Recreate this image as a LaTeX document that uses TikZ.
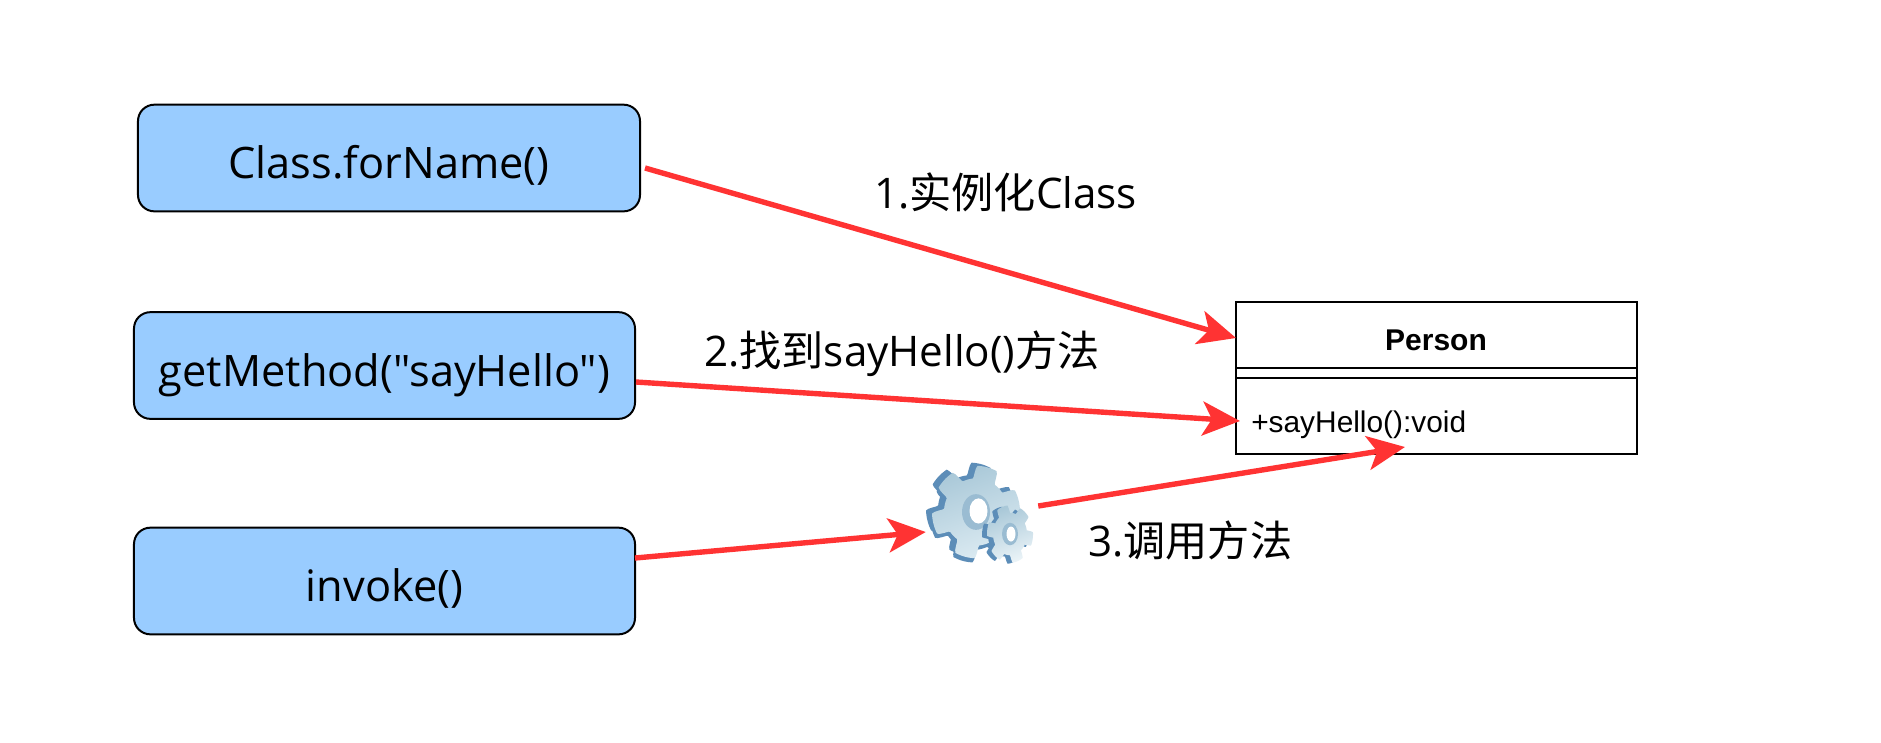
\documentclass[tikz,border=0pt]{standalone}
\usepackage{fontspec}
\setmainfont[Ligatures=TeXOff]{Open Sans}
\newfontfamily\cjkf{Noto Sans CJK SC}
\newfontfamily\umlf{Liberation Sans}
\usetikzlibrary{arrows.meta}
\definecolor{boxblue}{HTML}{99CCFF}
\definecolor{redline}{HTML}{FF3333}
\definecolor{geardark}{HTML}{5C8DB8}
\definecolor{gearlight}{HTML}{DCEBF2}
\definecolor{gearmid}{HTML}{A9C8D8}
\tikzset{
  x=0.03cm,y=-0.03cm,
  declare function={
    gearr(\a,\ri,\ro)=\ri+(\ro-\ri)*min(1,max(0,(0.33-abs(mod(\a+720,60)/60-0.5))*10));
  },
  callbox/.style={draw=black,line width=1.7pt,rounded corners=14pt,fill=boxblue,
    minimum height=3.2cm,inner sep=0pt,
    font=\fontsize{37}{42}\selectfont,text=black},
  umlcell/.style={draw=black,line width=1.7pt,fill=white,minimum width=12.03cm,inner sep=0pt},
  steplabel/.style={font=\fontsize{36}{42}\selectfont,text=black,inner sep=0pt},
  redarrow/.style={draw=redline,line width=4.6pt,-{Stealth[length=32pt,width=29pt,inset=8pt]}},
}
\newcommand{\gearshape}[3]{% ri ro phase
  plot[domain=0:360,samples=181] ({gearr(\x+#3,#1,#2)*cos(\x)},{gearr(\x+#3,#1,#2)*sin(\x)})
}
\newcommand{\boxtext}[1]{\raisebox{-17.5pt}[0pt][0pt]{#1}}
\begin{document}
\begin{tikzpicture}
\useasboundingbox (0,0) rectangle (1881,742);
\fill[white] (0,0) rectangle (1881,742);

\node[callbox,minimum width=15.06cm] (forname) at (389,158) {\boxtext{Class.forName()}};
\node[callbox,minimum width=15.03cm] (getmethod) at (384.5,365.5) {\boxtext{getMethod("sayHello")}};
\node[callbox,minimum width=15.03cm] (invoke) at (384.5,581) {\boxtext{invoke()}};

\node[umlcell,minimum height=1.98cm] (phead) at (1436.5,335) {};
\node[inner sep=0pt,font=\umlf\bfseries\fontsize{25.6}{30}\selectfont] (pname) at (1436,340) {Person};
\node[umlcell,minimum height=0.3cm] (pgap) at (1436.5,373) {};
\node[umlcell,minimum height=2.28cm] (pbody) at (1436.5,416) {};
\node[anchor=west,inner sep=0pt,font=\umlf\fontsize{25.5}{30}\selectfont] (pmethod) at (1251,425) {+sayHello():void};

% gear icon
\node[minimum width=3.18cm,minimum height=2.88cm,inner sep=0pt] (gear) at (979,514) {};
\begin{scope}[shift={(gear.center)}]
  \begin{scope}[shift={(-3,-2)},yscale=1.05]
    \fill[geardark] [shift={(-6,-3)}] \gearshape{32}{44}{45} -- cycle;
    \fill[geardark] [shift={(-2,4)}] \gearshape{32}{44}{45} -- cycle;
    \shade[left color=gearmid,right color=gearlight,shading angle=20] \gearshape{32}{44}{45} -- cycle;
    \fill[gearmid!80!geardark] (0,0) ellipse (14 and 17);
    \fill[white] (2.5,-1) ellipse (9 and 12);
  \end{scope}
  \begin{scope}[shift={(31,20)},yscale=1.25]
    \fill[geardark] [shift={(-5,1)}] \gearshape{17}{23}{20} -- cycle;
    \shade[left color=gearmid,right color=gearlight!60!white,shading angle=20] \gearshape{17}{23}{20} -- cycle;
    \fill[gearmid!80!geardark] (0,0) ellipse (8 and 9);
    \fill[white] (1,0) ellipse (4.5 and 6);
  \end{scope}
\end{scope}

\node[steplabel,anchor=west] (lab1) at (874,192) {1.{\cjkf 实例化}Class};
\node[steplabel,anchor=west] (lab2) at (704,354) {2.{\cjkf 找到}sayHello(){\cjkf 方法}};
\node[steplabel,anchor=west] (lab3) at (1088,540) {3.{\cjkf 调用方法}};

\draw[redarrow] ([shift={(4,10)}]forname.east) -- ([shift={(1,3)}]phead.west);
\draw[redarrow] ([shift={(0,16.5)}]getmethod.east) -- ([shift={(5,5)}]pbody.west);
\draw[redarrow] ([shift={(-1,-23)}]invoke.east) -- ([shift={(0,18)}]gear.west);
\draw[redarrow] ([shift={(6,-8)}]gear.east) -- ([shift={(170,-8)}]pbody.south west);
\end{tikzpicture}
\end{document}
